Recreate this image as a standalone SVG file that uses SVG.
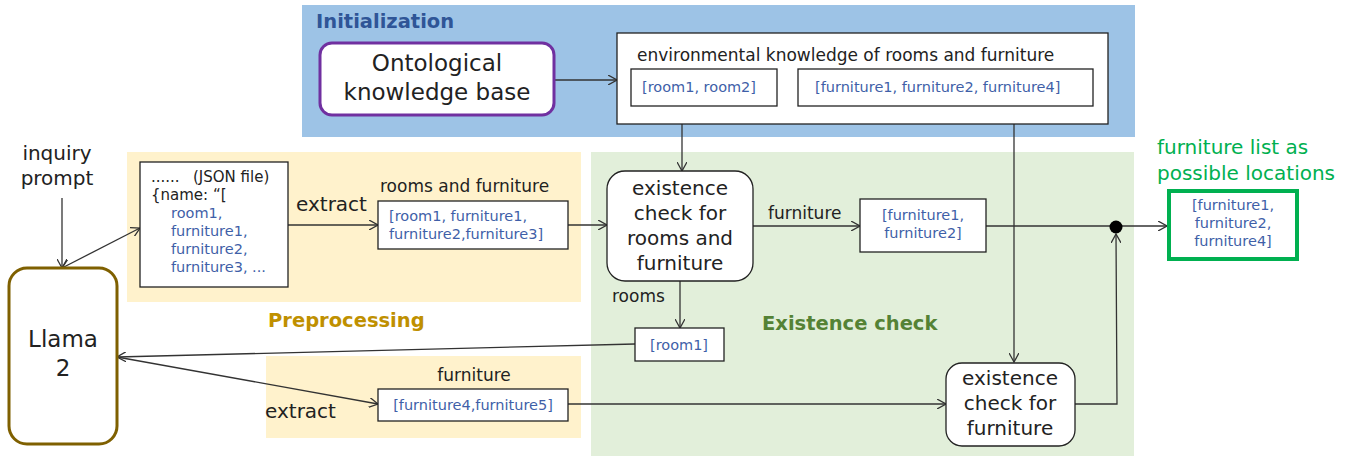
<svg xmlns="http://www.w3.org/2000/svg" width="1349" height="456" viewBox="0 0 1349 456">
<style>
text{font-family:"DejaVu Sans","Noto Sans",sans-serif;fill:#222;}
.blk{font-size:17px;}
.blue{font-size:14.5px;fill:#3F5FA8;}
.big{font-size:23px;}
.mid{font-size:20px;}
.lbl{font-size:20px;}
.json{font-size:15px;}
.head{font-size:19.5px;font-weight:bold;}
.box{fill:#fff;stroke:#222;stroke-width:1.3;}
.conn{fill:none;stroke:#333;stroke-width:1.3;}
</style>
<defs>
<marker id="ar" viewBox="0 0 10 10" refX="9" refY="5" markerWidth="10" markerHeight="10" markerUnits="userSpaceOnUse" orient="auto-start-reverse">
<path d="M0,0 L9,5 L0,10" fill="none" stroke="#333" stroke-width="1.3"/>
</marker>
</defs>
<rect width="1349" height="456" fill="#fff"/>
<!-- regions -->
<rect x="302" y="5" width="833" height="132" fill="#9DC3E6"/>
<rect x="127" y="152" width="454" height="150" fill="#FFF2CC"/>
<rect x="266" y="356" width="315" height="82" fill="#FFF2CC"/>
<rect x="591" y="152" width="543" height="304" fill="#E2EFDA"/>
<text class="head" x="316" y="28" style="fill:#2F5597">Initialization</text>
<text class="head" x="268" y="327" style="fill:#BF9000">Preprocessing</text>
<text class="head" x="762" y="330" style="fill:#548235">Existence check</text>

<g id="connectors">
<line class="conn" x1="554" y1="80" x2="617" y2="80" marker-end="url(#ar)"/>
<line class="conn" x1="682" y1="106" x2="682" y2="171" marker-end="url(#ar)"/>
<line class="conn" x1="1014" y1="106" x2="1014" y2="362" marker-end="url(#ar)"/>
<line class="conn" x1="62" y1="198" x2="62" y2="268" marker-end="url(#ar)"/>
<line class="conn" x1="62" y1="268" x2="140" y2="228" marker-start="url(#ar)" marker-end="url(#ar)"/>
<line class="conn" x1="288" y1="225" x2="378" y2="225" marker-end="url(#ar)"/>
<line class="conn" x1="568" y1="225" x2="607" y2="225" marker-end="url(#ar)"/>
<line class="conn" x1="753" y1="226" x2="860" y2="226" marker-end="url(#ar)"/>
<line class="conn" x1="986" y1="226" x2="1167" y2="226" marker-end="url(#ar)"/>
<line class="conn" x1="680" y1="281" x2="680" y2="328" marker-end="url(#ar)"/>
<line class="conn" x1="635" y1="344" x2="117" y2="357" marker-end="url(#ar)"/>
<line class="conn" x1="117" y1="357" x2="378" y2="404" marker-end="url(#ar)"/>
<line class="conn" x1="568" y1="404" x2="946" y2="404" marker-end="url(#ar)"/>
<polyline class="conn" points="1075,404 1117,404 1116,234" marker-end="url(#ar)"/>
<circle cx="1116" cy="227" r="6.5" fill="#000"/>
</g>

<g id="ontology">
<rect x="320" y="43" width="234" height="72" rx="12" fill="#fff" stroke="#7030A0" stroke-width="3"/>
<text class="big" x="437" y="71" text-anchor="middle">Ontological</text>
<text class="big" x="437" y="100" text-anchor="middle">knowledge base</text>
</g>

<g id="envknowledge">
<rect class="box" x="617" y="33" width="491" height="91"/>
<text class="blk" x="637" y="61">environmental knowledge of rooms and furniture</text>
<rect class="box" x="631" y="69" width="146" height="37"/>
<text class="blue" x="642" y="92">[room1, room2]</text>
<rect class="box" x="798" y="69" width="295" height="37"/>
<text class="blue" x="815" y="92">[furniture1, furniture2, furniture4]</text>
</g>

<g id="inquiry">
<text class="lbl" x="57" y="160" text-anchor="middle">inquiry</text>
<text class="lbl" x="57" y="185" text-anchor="middle">prompt</text>
</g>

<g id="llama">
<rect x="9" y="268" width="108" height="176" rx="18" fill="#fff" stroke="#7F6000" stroke-width="3"/>
<text class="big" x="63" y="347" text-anchor="middle">Llama</text>
<text class="big" x="63" y="376" text-anchor="middle">2</text>
</g>

<g id="json">
<rect class="box" x="140" y="162" width="148" height="125"/>
<text class="json" x="151" y="182">......</text>
<text class="json" x="193" y="182">(JSON file)</text>
<text class="json" x="151" y="200">{name: “[</text>
<text class="blue" x="171" y="218">room1,</text>
<text class="blue" x="171" y="236">furniture1,</text>
<text class="blue" x="171" y="254">furniture2,</text>
<text class="blue" x="171" y="272">furniture3, ...</text>
</g>

<text class="lbl" x="296" y="211">extract</text>

<g id="roomsfurniture">
<text class="blk" x="380" y="192">rooms and furniture</text>
<rect class="box" x="378" y="201" width="190" height="48"/>
<text class="blue" x="389" y="221">[room1, furniture1,</text>
<text class="blue" x="389" y="239">furniture2,furniture3]</text>
</g>

<g id="existcheck">
<rect class="box" x="607" y="171" width="146" height="110" rx="18"/>
<text class="mid" x="680" y="195" text-anchor="middle">existence</text>
<text class="mid" x="680" y="220" text-anchor="middle">check for</text>
<text class="mid" x="680" y="245" text-anchor="middle">rooms and</text>
<text class="mid" x="680" y="270" text-anchor="middle">furniture</text>
</g>

<text class="blk" x="768" y="219">furniture</text>
<text class="blk" x="612" y="302">rooms</text>

<g id="furn12">
<rect class="box" x="860" y="199" width="126" height="53"/>
<text class="blue" x="923" y="220" text-anchor="middle">[furniture1,</text>
<text class="blue" x="923" y="238" text-anchor="middle">furniture2]</text>
</g>

<g id="room1">
<rect class="box" x="635" y="328" width="89" height="33"/>
<text class="blue" x="679" y="350" text-anchor="middle">[room1]</text>
</g>

<g id="furn45">
<text class="blk" x="474" y="381" text-anchor="middle">furniture</text>
<rect class="box" x="378" y="389" width="190" height="32"/>
<text class="blue" x="473" y="410" text-anchor="middle">[furniture4,furniture5]</text>
</g>

<text class="lbl" x="265" y="418">extract</text>

<g id="existfurn">
<rect class="box" x="946" y="363" width="129" height="83" rx="16"/>
<text class="mid" x="1010" y="385" text-anchor="middle">existence</text>
<text class="mid" x="1010" y="410" text-anchor="middle">check for</text>
<text class="mid" x="1010" y="435" text-anchor="middle">furniture</text>
</g>

<g id="output">
<text class="lbl" x="1157" y="154" style="fill:#00B050">furniture list as</text>
<text class="lbl" x="1157" y="180" style="fill:#00B050">possible locations</text>
<rect x="1169" y="191" width="128" height="68" fill="#fff" stroke="#00B050" stroke-width="4"/>
<text class="blue" x="1233" y="210" text-anchor="middle">[furniture1,</text>
<text class="blue" x="1233" y="228" text-anchor="middle">furniture2,</text>
<text class="blue" x="1233" y="246" text-anchor="middle">furniture4]</text>
</g>
</svg>
